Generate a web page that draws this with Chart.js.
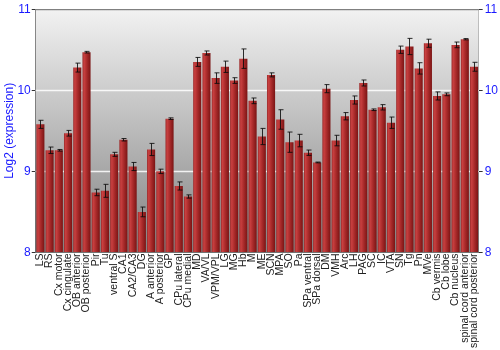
<!DOCTYPE html>
<html>
<head>
<meta charset="utf-8">
<script src="https://cdn.jsdelivr.net/npm/chart.js@4"></script>
<style>
  html, body { margin: 0; padding: 0; background: #fff; }
  #wrap { width: 500px; height: 350px; }
</style>
</head>
<body>
<div id="wrap"><canvas id="myChart" width="500" height="350"></canvas></div>
<script>
// tissue names along the x axis
const regions = ["LS", "RS", "Cx motor", "Cx cingulate", "OB anterior", "OB posterior", "Pir", "Tu",
  "ventral S", "CA1", "CA2/CA3", "DG", "A anterior", "A posterior", "GP", "CPu lateral", "CPu medial",
  "MD", "VA/VL", "VPM/VPL", "LG", "MG", "Hb", "M", "ME", "SCN", "MPA", "SO", "Pa", "SPa ventral",
  "SPa dorsal", "DM", "VMH", "Arc", "LH", "PAG", "SC", "IC", "VTA", "SN", "Tg", "Pn", "MVe",
  "Cb vermis", "Cb lobe", "Cb nucleus", "spinal cord anterior", "spinal cord posterior"];

// log2 expression values
const expression = [9.58, 9.26, 9.26, 9.47, 10.28, 10.47, 8.74, 8.76,
  9.21, 9.39, 9.06, 8.50, 9.27, 9.00, 9.65, 8.82, 8.69,
  10.35, 10.46, 10.15, 10.29, 10.12, 10.39, 9.87, 9.43, 10.19, 9.64, 9.36, 9.38, 9.23,
  9.11, 10.02, 9.38, 9.68, 9.88, 10.09, 9.76, 9.79, 9.60, 10.50, 10.54, 10.27, 10.58,
  9.93, 9.95, 10.56, 10.63, 10.29];

// half length of each error bar
const errors = [0.05, 0.04, 0.01, 0.035, 0.055, 0.01, 0.04, 0.08,
  0.025, 0.015, 0.05, 0.06, 0.075, 0.027, 0.01, 0.05, 0.02,
  0.055, 0.025, 0.065, 0.07, 0.035, 0.12, 0.035, 0.1, 0.025, 0.12, 0.125, 0.077, 0.033,
  0.005, 0.05, 0.065, 0.045, 0.05, 0.037, 0.01, 0.033, 0.07, 0.045, 0.1, 0.07, 0.05,
  0.05, 0.017, 0.035, 0.008, 0.055];

const yTicks = [8, 9, 10, 11];
const barPct = 0.88;

// grey gradient behind the plot
const backdrop = {
  id: 'backdrop',
  beforeDatasetsDraw(chart) {
    const { ctx, chartArea: a } = chart;
    const g = ctx.createLinearGradient(0, a.top, 0, a.bottom);
    g.addColorStop(0, '#f2f2f2');
    g.addColorStop(1, '#828282');
    ctx.save();
    ctx.fillStyle = g;
    ctx.fillRect(a.left, a.top, a.right - a.left, a.bottom - a.top);
    // white grid lines on top of the gradient
    const y = chart.scales.y;
    ctx.strokeStyle = 'rgba(255,255,255,0.85)';
    ctx.lineWidth = 1.5;
    [9, 10].forEach(v => {
      const py = Math.round(y.getPixelForValue(v)) + 0.5;
      ctx.beginPath();
      ctx.moveTo(a.left, py);
      ctx.lineTo(a.right, py);
      ctx.stroke();
    });
    ctx.restore();
  }
};

// error bars drawn over the bars
const errorBars = {
  id: 'errorBars',
  afterDatasetsDraw(chart) {
    const { ctx } = chart;
    const y = chart.scales.y;
    const meta = chart.getDatasetMeta(0);
    ctx.save();
    ctx.strokeStyle = 'rgba(10,10,10,0.85)';
    ctx.lineWidth = 1;
    meta.data.forEach((bar, i) => {
      const x = Math.round(bar.x) + 0.5;
      const top = y.getPixelForValue(expression[i] + errors[i]);
      const bot = y.getPixelForValue(expression[i] - errors[i]);
      ctx.beginPath();
      ctx.moveTo(x, top); ctx.lineTo(x, bot);
      ctx.moveTo(x - 2, top); ctx.lineTo(x + 3, top);
      ctx.moveTo(x - 2, bot); ctx.lineTo(x + 3, bot);
      ctx.stroke();
    });
    ctx.restore();
  }
};

function barFill(context) {
  const chart = context.chart;
  const xs = chart.scales.x;
  if (!xs || !chart.chartArea) return '#a52a2a';
  const cx = xs.getPixelForValue(context.dataIndex);
  const w = (xs.width / regions.length) * barPct;
  const g = chart.ctx.createLinearGradient(cx - w / 2, 0, cx + w / 2, 0);
  g.addColorStop(0, '#9a2a2a');
  g.addColorStop(0.2, '#c94040');
  g.addColorStop(0.55, '#a82a2a');
  g.addColorStop(1, '#7a1414');
  return g;
}

const ctx = document.getElementById('myChart').getContext('2d');
new Chart(ctx, {
  type: 'bar',
  data: {
    labels: regions,
    datasets: [{
      data: expression,
      backgroundColor: barFill,
      borderWidth: 0,
      barPercentage: barPct,
      categoryPercentage: 1.0,
      base: 8
    }]
  },
  options: {
    responsive: false,
    animation: false,
    layout: { padding: { top: 4, right: 0, left: 0, bottom: 1 } },
    plugins: {
      legend: { display: false },
      tooltip: { enabled: false }
    },
    scales: {
      x: {
        offset: true,
        grid: { display: false, drawTicks: false },
        border: { display: true, color: '#666' },
        ticks: {
          autoSkip: false,
          maxRotation: 90,
          minRotation: 90,
          padding: 1,
          color: '#222',
          font: { family: 'Liberation Sans', size: 10.5 }
        }
      },
      y: {
        min: 8,
        max: 11,
        afterBuildTicks: s => { s.ticks = yTicks.map(v => ({ value: v })); },
        grid: { drawOnChartArea: false, tickLength: 4, tickColor: '#333' },
        border: { display: true, color: '#666' },
        ticks: { color: '#1a1aff', padding: 1, font: { family: 'Liberation Sans', size: 12 } },
        title: {
          display: true,
          text: 'Log2 (expression)',
          color: '#1a1aff',
          padding: { top: 2, bottom: 0 },
          font: { family: 'Liberation Sans', size: 12 }
        }
      },
      y2: {
        position: 'right',
        min: 8,
        max: 11,
        afterBuildTicks: s => { s.ticks = yTicks.map(v => ({ value: v })); },
        grid: { drawOnChartArea: false, tickLength: 4, tickColor: '#333' },
        border: { display: true, color: '#666' },
        ticks: { color: '#1a1aff', padding: 2, font: { family: 'Liberation Sans', size: 12 } }
      }
    }
  },
  plugins: [backdrop, errorBars, {
    id: 'topBorder',
    afterDraw(chart) {
      const { ctx, chartArea: a } = chart;
      ctx.save();
      ctx.strokeStyle = '#666';
      ctx.lineWidth = 1;
      ctx.beginPath();
      ctx.moveTo(a.left, a.top + 0.5);
      ctx.lineTo(a.right, a.top + 0.5);
      ctx.stroke();
      ctx.restore();
    }
  }]
});
</script>
</body>
</html>
